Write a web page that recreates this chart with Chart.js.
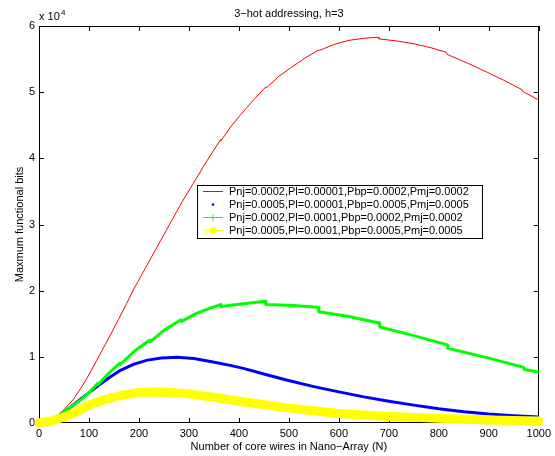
<!DOCTYPE html>
<html><head><meta charset="utf-8">
<script src="https://cdn.jsdelivr.net/npm/chart.js@4"></script>
<style>html,body{margin:0;padding:0;background:#fff}#wrap{width:555px;height:456px;position:relative}</style>
</head><body><div id="wrap"><canvas id="c" width="555" height="456"></canvas></div>
<script>
const titleText = "3\u2212hot addressing, h=3";
const xLabel = "Number of core wires in Nano\u2212Array (N)";
const yLabel = "Maxmum functional bits";
const xTicks = [0,100,200,300,400,500,600,700,800,900,1000];
const yTicks = [0,1,2,3,4,5,6];   // ×10^4
const seriesNames = [
  "Pnj=0.0002,Pl=0.00001,Pbp=0.0002,Pmj=0.0002",
  "Pnj=0.0005,Pl=0.00001,Pbp=0.0005,Pmj=0.0005",
  "Pnj=0.0002,Pl=0.0001,Pbp=0.0002,Pmj=0.0002",
  "Pnj=0.0005,Pl=0.0001,Pbp=0.0005,Pmj=0.0005"
];
const redN = [0,20,35,50,68,85,100,115,130,145,160,175,190,207,223,245,267,287,307,335,363,364,385,406,430,454,455,480,506,533,560,561,590,618,650,679,680,715,751,785,816,817,860,897,930,966,967,1000];
const redV = [0,300,1000,2000,3500,5400,7300,9400,11500,13600,15800,18000,20300,22600,24800,27800,30800,33500,36000,39500,42800,42650,44900,46800,48900,50800,50650,52400,53800,55200,56400,56300,57200,57800,58150,58300,58050,57750,57300,56700,56000,55700,54300,53000,51800,50400,50150,48800];
const blueN = [0,20,40,60,80,100,120,140,164,190,217,245,276,310,343,380,409,450,495,550,600,650,700,750,800,850,900,950,1000];
const blueV = [0,300,1100,2200,3400,4600,5750,6850,8000,8900,9500,9830,9920,9750,9300,8750,8250,7400,6500,5500,4700,3950,3300,2700,2150,1700,1350,1100,900];
const greenN = [0,20,40,60,84,100,118,119,140,161,162,190,221,222,250,284,285,316,340,363,364,400,453,454,500,559,560,620,681,682,750,817,818,900,970,971,1000];
const greenV = [0,300,1100,2250,3500,4600,6000,5850,7550,9000,8800,10800,12500,12250,14000,15600,15350,16600,17300,17900,17600,17950,18400,17900,17800,17500,16800,16100,15100,14500,13200,11800,11300,9800,8400,8100,7700];
const yellowN = [0,25,50,75,100,130,160,200,230,260,300,350,400,450,500,550,600,650,700,750,800,850,900,950,1000];
const yellowV = [0,300,900,1700,2700,3500,4100,4600,4700,4650,4400,3900,3300,2750,2250,1850,1450,1200,1000,850,700,550,450,370,300];

const pts = (n, v) => n.map((x, i) => ({x: x, y: v[i]}));
const FONT = "'Liberation Sans', Arial, Helvetica, sans-serif";

const frame = {
  id: 'frame',
  beforeDatasetsDraw(chart) {
    const {ctx, chartArea: a, scales: {x, y}} = chart;
    ctx.save();
    ctx.strokeStyle = '#000'; ctx.lineWidth = 1;
    ctx.strokeRect(Math.round(a.left) + 0.5, Math.round(a.top) + 0.5, Math.round(a.right - a.left) - 1, Math.round(a.bottom - a.top) - 1);
    ctx.beginPath();
    xTicks.forEach(t => {
      const px = Math.round(x.getPixelForValue(t)) + 0.5;
      ctx.moveTo(px, a.bottom); ctx.lineTo(px, a.bottom - 5);
      ctx.moveTo(px, a.top); ctx.lineTo(px, a.top + 5);
    });
    yTicks.forEach(t => {
      const py = Math.round(y.getPixelForValue(t * 1e4)) + 0.5;
      ctx.moveTo(a.left, py); ctx.lineTo(a.left + 5, py);
      ctx.moveTo(a.right, py); ctx.lineTo(a.right - 5, py);
    });
    ctx.stroke();
    ctx.restore();
  },
  afterDraw(chart) {
    const {ctx, chartArea: a} = chart;
    ctx.save();
    ctx.fillStyle = '#000';
    ctx.font = '11px ' + FONT;
    ctx.textBaseline = 'middle';
    ctx.textAlign = 'center';
    const cx = (a.left + a.right) / 2;
    ctx.fillText(titleText, cx, 14);
    ctx.fillText(xLabel, cx, 447);
    ctx.save();
    ctx.translate(20, (a.top + a.bottom) / 2);
    ctx.rotate(-Math.PI / 2);
    ctx.fillText(yLabel, 0, 0);
    ctx.restore();
    ctx.textAlign = 'left';
    ctx.fillText('x 10', a.left, 17);
    ctx.font = '8px ' + FONT;
    ctx.fillText('4', a.left + 22, 13);
    // legend
    const L = 197, T = 185, W = 285, H = 53;
    ctx.fillStyle = '#fff';
    ctx.fillRect(L, T, W, H);
    ctx.strokeStyle = '#000'; ctx.lineWidth = 1;
    ctx.strokeRect(L + 0.5, T + 0.5, W, H);
    ctx.font = '11px ' + FONT;
    const rows = [191.5, 204.5, 217.5, 230.5];
    const cols = ['#ff0000', '#0000ff', '#00ff00', '#ffff00'];
    rows.forEach((ry, i) => {
      ctx.fillStyle = '#000';
      ctx.fillText(seriesNames[i], 229, ry);
      ctx.strokeStyle = cols[i]; ctx.fillStyle = cols[i]; ctx.lineWidth = 1;
      if (i !== 1) {
        ctx.beginPath(); ctx.moveTo(203, ry); ctx.lineTo(223, ry); ctx.stroke();
      }
      if (i === 1) { ctx.beginPath(); ctx.arc(213, ry, 1.3, 0, 2 * Math.PI); ctx.fill(); }
      if (i === 2) { ctx.beginPath(); ctx.moveTo(213, ry - 3); ctx.lineTo(213, ry + 3); ctx.stroke(); }
      if (i === 3) {
        ctx.beginPath();
        for (let k = 0; k < 4; k++) {
          const ang = k * Math.PI / 4;
          ctx.moveTo(213 - 4 * Math.cos(ang), ry - 4 * Math.sin(ang));
          ctx.lineTo(213 + 4 * Math.cos(ang), ry + 4 * Math.sin(ang));
        }
        ctx.lineWidth = 1.5; ctx.stroke();
      }
    });
    ctx.restore();
  }
};

const common = {pointRadius: 0, pointHoverRadius: 0, tension: 0, fill: false, borderCapStyle: 'round', borderJoinStyle: 'round'};

new Chart(document.getElementById('c'), {
  type: 'line',
  data: {
    datasets: [
      Object.assign({label: seriesNames[0], data: pts(redN, redV), borderColor: '#ff0000', borderWidth: 1, order: 4}, common),
      Object.assign({label: seriesNames[1], data: pts(blueN, blueV), borderColor: '#0000ff', borderWidth: 3, order: 3}, common),
      Object.assign({label: seriesNames[2], data: pts(greenN, greenV), borderColor: '#00ff00', borderWidth: 3, order: 2}, common),
      Object.assign({label: seriesNames[3], data: pts(yellowN, yellowV), borderColor: '#ffff00', borderWidth: 9, order: 1, clip: false}, common)
    ]
  },
  options: {
    responsive: false, animation: false, devicePixelRatio: 1,
    layout: {padding: {top: 26, right: 13, left: 0, bottom: 0}},
    plugins: {legend: {display: false}, tooltip: {enabled: false}, title: {display: false}},
    scales: {
      x: {
        type: 'linear', min: 0, max: 1000,
        afterBuildTicks: s => { s.ticks = xTicks.map(v => ({value: v})); },
        afterFit: s => { s.height = 33; },
        ticks: {font: {size: 11, family: FONT}, color: '#000', padding: 4, maxRotation: 0, autoSkip: false, callback: v => String(v)},
        grid: {display: false, drawTicks: false},
        border: {display: false}
      },
      y: {
        type: 'linear', min: 0, max: 60000,
        afterBuildTicks: s => { s.ticks = yTicks.map(v => ({value: v * 1e4})); },
        afterFit: s => { s.width = 39; },
        ticks: {font: {size: 11, family: FONT}, color: '#000', padding: 4, callback: v => String(v / 1e4)},
        grid: {display: false, drawTicks: false},
        border: {display: false}
      }
    }
  },
  plugins: [frame]
});
</script>
</body></html>
